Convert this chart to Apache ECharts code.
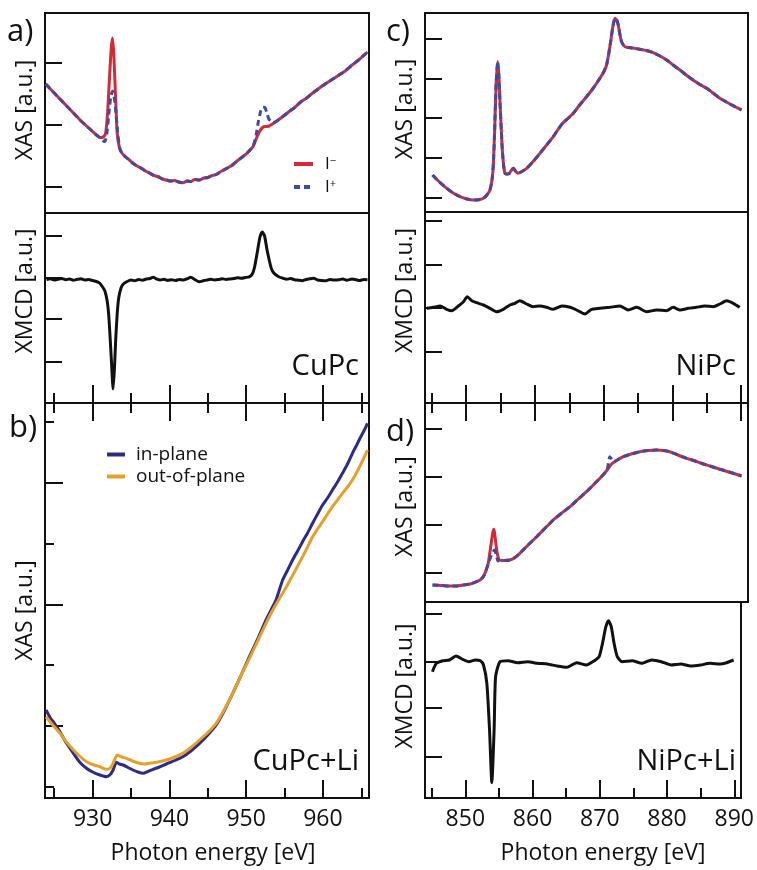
<!DOCTYPE html>
<html>
<head>
<meta charset="utf-8">
<script src="https://cdn.jsdelivr.net/npm/echarts@6/dist/echarts.min.js"></script>
<style>
html, body { margin: 0; padding: 0; background: #fff; }
#chart { width: 757px; height: 870px; }
</style>
</head>
<body>
<div id="chart"></div>
<script>
// energies in eV, intensities in arbitrary units
const cuRange = [923.8, 966]
const niRange = [844, 891]
const cuMajor = [930, 940, 950, 960]
const cuMinor = [925, 935, 945, 955, 965]
const niMajor = [850, 860, 870, 880, 890]
const niMinor = [845, 855, 865, 875, 885]

// a) CuPc XAS, I- (red) and I+ (blue)
const cuXasMinus = [[923.9,12.9],[924.5,12.4],[925,12.0],[925.5,11.6],[926,11.2],[926.5,10.8],[927,10.4],[927.5,10.0],[928,9.6],[928.5,9.2],[929,8.85],[929.5,8.5],[930,8.15],[930.5,7.8],[931,7.55],[931.4,7.6],[931.7,8.0],[931.95,10.0],[932.15,12.8],[932.4,16.2],[932.58,17.5],[932.75,16.0],[932.9,13.3],[933.05,10.5],[933.2,8.0],[933.5,6.5],[933.8,6.0],[934.3,5.6],[934.8,5.3],[935.2,5.0],[935.8,4.7],[936.4,4.45],[937,4.15],[937.4,4.0],[938,3.75],[938.6,3.6],[939.1,3.4],[939.6,3.3],[940.2,3.2],[940.7,3.25],[941.2,3.1],[941.8,3.03],[942.3,3.2],[942.8,3.15],[943.3,3.35],[943.9,3.3],[944.5,3.5],[945,3.55],[945.6,3.75],[946.1,3.85],[946.7,4.15],[947.2,4.35],[947.8,4.6],[948.3,4.85],[948.9,5.25],[949.5,5.6],[950,5.9],[950.5,6.3],[950.9,6.65],[951.3,7.4],[951.7,8.1],[952.2,8.6],[952.6,8.65],[953,8.7],[953.4,8.9],[953.9,9.15],[954.7,9.6],[955.6,10.15],[956.4,10.6],[957.1,11.1],[957.8,11.45],[958.5,11.9],[959.2,12.3],[959.9,12.7],[960.7,13.1],[961.4,13.45],[962.1,13.8],[962.9,14.2],[963.8,14.8],[964.8,15.4],[965.8,16.1]]
const cuXasPlus = [[923.9,12.9],[924.5,12.4],[925,12.0],[925.5,11.6],[926,11.2],[926.5,10.8],[927,10.4],[927.5,10.0],[928,9.6],[928.5,9.2],[929,8.85],[929.5,8.5],[930,8.15],[930.5,7.8],[931,7.5],[931.4,7.2],[931.6,7.15],[931.85,7.9],[932.1,9.8],[932.35,11.5],[932.6,12.2],[932.85,11.4],[933.05,10.0],[933.25,8.2],[933.5,6.6],[933.8,6.0],[934.3,5.6],[934.8,5.3],[935.2,5.0],[935.8,4.7],[936.4,4.45],[937,4.15],[937.4,4.0],[938,3.75],[938.6,3.6],[939.1,3.4],[939.6,3.3],[940.2,3.2],[940.7,3.25],[941.2,3.1],[941.8,3.0],[942.3,3.2],[942.8,3.15],[943.3,3.35],[943.9,3.3],[944.5,3.5],[945,3.55],[945.6,3.75],[946.1,3.85],[946.7,4.15],[947.2,4.35],[947.8,4.6],[948.3,4.85],[948.9,5.25],[949.5,5.6],[950,5.9],[950.5,6.3],[950.9,6.65],[951.3,7.8],[951.6,9.2],[951.9,10.2],[952.2,10.6],[952.45,10.55],[952.7,10.0],[952.95,9.4],[953.2,9.2],[953.5,9.05],[953.9,9.15],[954.7,9.6],[955.6,10.15],[956.4,10.6],[957.1,11.1],[957.8,11.45],[958.5,11.9],[959.2,12.3],[959.9,12.7],[960.7,13.1],[961.4,13.45],[962.1,13.8],[962.9,14.2],[963.8,14.8],[964.8,15.4],[965.8,16.1]]
// a) CuPc XMCD
const cuXmcd = [[924.0,12.35],[924.5,12.42],[925.0,12.30],[925.5,12.38],[926.0,12.45],[926.5,12.33],[927.0,12.40],[927.5,12.28],[928.0,12.36],[928.5,12.43],[929.0,12.30],[929.5,12.35],[930.0,12.25],[930.5,12.15],[930.9,12.0],[931.3,11.6],[931.6,11.2],[931.9,10.2],[932.1,8.8],[932.3,6.3],[932.5,3.5],[932.67,1.4],[932.85,3.5],[933.0,6.2],[933.2,8.9],[933.4,10.5],[933.7,11.5],[934.0,11.9],[934.5,12.15],[935.0,12.3],[935.5,12.22],[936.0,12.35],[936.5,12.28],[937.0,12.40],[937.5,12.45],[937.9,12.58],[938.3,12.42],[938.8,12.30],[939.3,12.38],[939.8,12.26],[940.3,12.33],[940.8,12.25],[941.3,12.35],[941.8,12.30],[942.3,12.42],[942.8,12.57],[943.3,12.35],[943.9,12.13],[944.4,12.22],[944.9,12.30],[945.4,12.38],[945.9,12.30],[946.4,12.35],[946.9,12.42],[947.4,12.36],[947.9,12.40],[948.4,12.45],[948.9,12.52],[949.4,12.48],[949.9,12.55],[950.4,12.62],[950.8,12.9],[951.1,13.6],[951.5,15.3],[951.8,16.6],[952.1,17.1],[952.4,16.7],[952.7,15.4],[953.0,14.3],[953.3,13.4],[953.6,13.0],[953.9,12.8],[954.3,12.6],[954.8,12.47],[955.3,12.38],[955.8,12.45],[956.3,12.33],[956.8,12.28],[957.3,12.23],[957.8,12.35],[958.3,12.42],[958.8,12.47],[959.3,12.30],[959.8,12.25],[960.4,12.23],[960.9,12.35],[961.4,12.30],[962.1,12.33],[962.6,12.40],[963.1,12.28],[963.8,12.40],[964.3,12.33],[964.8,12.25],[965.3,12.35],[965.8,12.32]]

// b) CuPc+Li XAS, in-plane and out-of-plane
const cuLiInPlane = [[923.93,8.8],[924.5,8.0],[925,7.5],[925.75,6.63],[926.5,5.6],[927.5,4.47],[928.3,3.6],[929.2,2.97],[930,2.6],[930.94,2.3],[931.8,2.13],[932.3,2.35],[932.67,2.8],[933.1,3.57],[933.5,3.4],[933.97,3.3],[934.6,3.05],[935.27,2.8],[935.9,2.6],[936.57,2.47],[937.2,2.65],[937.87,2.87],[938.7,3.1],[939.6,3.4],[940.7,3.75],[941.76,4.13],[942.8,4.7],[943.93,5.47],[945,6.3],[946.1,7.3],[947.2,8.8],[948.25,10.47],[949.3,12.2],[950.42,14.13],[951.5,15.9],[952.59,17.8],[953.24,18.8],[953.89,19.8],[954.75,21.8],[955.4,22.8],[956.05,23.8],[956.7,24.7],[957.35,25.63],[958,26.5],[958.65,27.47],[959.3,28.4],[959.95,29.3],[960.6,30.0],[961.24,30.8],[961.9,31.6],[962.54,32.47],[963.2,33.4],[963.84,34.47],[964.4,35.3],[964.93,36.13],[965.4,36.8],[965.8,37.47]]
const cuLiOutPlane = [[923.93,8.13],[924.8,7.3],[925.75,6.47],[926.6,5.6],[927.5,4.8],[928.3,4.2],[929.2,3.63],[930,3.35],[930.94,3.13],[931.8,2.87],[932.3,3.0],[932.67,3.47],[933.2,4.3],[933.8,4.1],[934.4,3.97],[935.2,3.7],[936.1,3.47],[936.8,3.4],[937.4,3.47],[938.5,3.6],[939.6,3.8],[940.7,4.1],[941.76,4.47],[942.8,5.05],[943.93,5.8],[945,6.55],[946.1,7.47],[947.2,8.9],[948.25,10.47],[949.3,12.2],[950.42,13.97],[951.5,15.7],[952.59,17.47],[953.4,18.7],[954.3,19.9],[955.0,20.8],[955.6,21.63],[956.5,22.9],[957.35,24.13],[958,25.1],[958.65,26.13],[959.3,26.9],[959.95,27.63],[960.6,28.4],[961.24,29.13],[961.9,29.8],[962.54,30.47],[963.2,31.1],[963.84,31.8],[964.5,32.7],[965.1,33.63],[965.8,34.8]]

// c) NiPc XAS (I- and I+ coincide) and XMCD
const niXas = [[845.1,3.7],[846.1,3.0],[847.16,2.37],[848.1,1.9],[849.1,1.53],[850.1,1.3],[851.03,1.2],[851.8,1.22],[852.5,1.37],[853.0,1.7],[853.45,2.2],[853.75,3.2],[853.95,4.8],[854.15,8.5],[854.35,12.8],[854.57,15.03],[854.75,13.6],[854.9,11.2],[855.1,8.2],[855.25,6.2],[855.45,4.6],[855.64,3.87],[856.0,3.8],[856.27,3.87],[856.6,4.2],[856.85,4.37],[857.15,4.1],[857.48,3.87],[858.1,4.05],[858.8,4.37],[859.8,5.1],[860.73,5.87],[861.7,6.7],[862.66,7.53],[863.4,8.3],[864.1,8.93],[864.8,9.35],[865.57,9.87],[866.5,10.7],[867.5,11.53],[868.5,12.4],[869.45,13.37],[870.0,14.0],[870.42,14.7],[870.75,15.9],[871.05,17.2],[871.35,18.6],[871.64,19.37],[871.9,19.2],[872.12,18.7],[872.35,17.8],[872.6,17.03],[873.1,16.53],[874.2,16.4],[875.27,16.27],[876.2,16.15],[877.2,15.93],[878.2,15.6],[879.16,15.2],[880.1,14.7],[881.1,14.2],[882.0,13.7],[883.0,13.2],[884.0,12.75],[885.0,12.37],[886.0,11.85],[886.9,11.37],[887.6,11.1],[888.36,10.8],[889.2,10.5],[890.06,10.2]]
const niXmcd = [[844.24,9.47],[845.2,9.57],[846.2,9.7],[847.15,9.37],[847.9,9.23],[848.85,9.7],[849.6,10.13],[850.15,10.63],[850.8,10.23],[851.5,10.03],[852.5,9.8],[853.45,9.47],[854.4,9.13],[855.4,9.37],[856.36,9.8],[857.1,9.97],[857.8,10.23],[858.8,9.9],[859.76,9.63],[860.7,9.7],[861.7,9.57],[862.66,9.37],[863.9,9.7],[865.1,9.57],[866.06,9.3],[867.27,8.9],[868.24,9.37],[869.45,9.47],[870.9,9.57],[872.36,9.7],[873.58,9.3],[874.8,9.57],[876.24,9.13],[877.7,9.3],[879.15,9.23],[880.1,9.57],[881.1,9.3],[882.3,9.47],[883.5,9.57],[884.7,9.7],[885.94,9.63],[886.9,9.9],[887.9,10.23],[888.85,9.97],[889.8,9.57]]

// d) NiPc+Li XAS and XMCD
const niLiXasMinus = [[845.1,1.7],[846.5,1.65],[847.5,1.6],[848.6,1.6],[849.6,1.7],[850.6,1.8],[851.5,2.03],[852.0,2.2],[852.48,2.53],[852.85,3.1],[853.2,3.87],[853.45,5.0],[853.7,6.2],[853.88,7.0],[854.04,7.27],[854.22,6.4],[854.43,5.2],[854.6,4.6],[854.8,4.2],[855.5,4.15],[856.36,4.2],[857.1,4.45],[857.8,4.87],[859.0,5.7],[860.25,6.53],[861.5,7.4],[862.66,8.2],[863.9,8.9],[865.1,9.53],[866.3,10.3],[867.5,11.03],[868.7,11.85],[869.9,12.7],[870.5,13.2],[871.15,13.8],[872.0,14.2],[872.85,14.53],[874.0,14.8],[875.27,15.03],[876.5,15.15],[877.7,15.2],[878.7,15.15],[879.6,15.03],[880.8,14.7],[882.07,14.37],[883.3,14.1],[884.5,13.8],[885.7,13.55],[886.9,13.27],[888.5,12.95],[890.06,12.6]]
const niLiXasPlus = [[845.1,1.7],[846.5,1.65],[847.5,1.6],[848.6,1.6],[849.6,1.7],[850.6,1.8],[851.5,2.03],[852.0,2.2],[852.48,2.53],[852.85,3.1],[853.2,3.8],[853.5,4.4],[853.8,4.9],[854.1,5.2],[854.35,4.8],[854.6,4.1],[854.8,4.2],[855.5,4.15],[856.36,4.2],[857.1,4.45],[857.8,4.87],[859.0,5.7],[860.25,6.53],[861.5,7.4],[862.66,8.2],[863.9,8.9],[865.1,9.53],[866.3,10.3],[867.5,11.03],[868.7,11.85],[869.9,12.7],[870.5,13.2],[870.9,14.53],[871.15,14.3],[871.4,14.03],[872.0,14.2],[872.85,14.53],[874.0,14.8],[875.27,15.03],[876.5,15.15],[877.7,15.2],[878.7,15.15],[879.6,15.03],[880.8,14.7],[882.07,14.37],[883.3,14.1],[884.5,13.8],[885.7,13.55],[886.9,13.27],[888.5,12.95],[890.06,12.6]]
const niLiXmcd = [[845.1,12.63],[845.7,13.47],[846.67,13.73],[847.64,13.8],[848.6,14.2],[849.6,13.87],[850.5,13.63],[851.5,13.8],[852.24,13.73],[852.7,13.3],[853.2,11.47],[853.6,6.8],[853.94,1.53],[854.28,6.8],[854.5,12.13],[855.15,13.63],[856.36,13.73],[857.8,13.53],[859.27,13.63],[860.73,13.47],[862.18,13.4],[863.64,13.2],[865.1,13.07],[866.55,13.53],[868.0,13.3],[869.2,13.73],[869.9,14.13],[870.4,15.47],[870.9,17.13],[871.3,17.73],[871.7,17.13],[872.12,15.47],[872.6,14.13],[873.33,13.63],[874.8,13.73],[876.24,13.47],[877.7,13.8],[879.15,13.63],[880.6,13.3],[882.06,13.4],[883.5,13.2],[885.0,13.3],[886.4,13.47],[887.9,13.4],[888.85,13.53],[889.9,13.8]]

// y tick values (a.u.)
const cuXasTicks = [2.6, 8.8, 15.0]
const cuXmcdTicks = [4.1, 8.4, 12.5, 16.7]
const cuLiMajorTicks = [7.2, 19.3, 31.5]
const cuLiMinorTicks = [1.1, 13.3, 25.4, 37.6]
const niXasTicks = [1.4, 5.4, 9.4, 13.3, 17.3]
const niXmcdTicks = [5.1, 9.5, 13.8, 18.2]
const niLiXasTicks = [2.9, 7.7, 12.5, 17.3]
const niLiXmcdTicks = [4.1, 9.0, 13.6, 18.4]

const font = "'Open Sans', sans-serif"
const ink = '#111'
const red = '#d42a36'
const blue = '#3a4ca8'

const chart = echarts.init(document.getElementById('chart'))

const grids = [
    { left: 45, top: 13, width: 324, height: 200 },   // a XAS
    { left: 45, top: 213, width: 324, height: 190 },  // a XMCD
    { left: 45, top: 403, width: 324, height: 395 },  // b
    { left: 425, top: 13, width: 323, height: 199 },  // c XAS
    { left: 425, top: 212, width: 323, height: 191 }, // c XMCD
    { left: 425, top: 403, width: 323, height: 199 }, // d XAS
    { left: 425, top: 602, width: 323, height: 196 }  // d XMCD
].map(g => Object.assign(g, { show: true, borderColor: ink, borderWidth: 2, backgroundColor: 'transparent' }))

function tick(values, len) {
    if (!values) return { show: false }
    return { show: true, inside: true, length: len, customValues: values, lineStyle: { color: ink, width: 2 } }
}

function xAx(grid, range, pos, ticks, len, extra) {
    return Object.assign({
        type: 'value', gridIndex: grid, min: range[0], max: range[1], position: pos,
        axisLine: { show: false, onZero: false },
        splitLine: { show: false },
        axisLabel: { show: false },
        axisTick: tick(ticks, len)
    }, extra || {})
}

function yAx(grid, max, ticks, len, name, pad) {
    let ax = {
        type: 'value', gridIndex: grid, min: 0, max: max, position: 'left',
        axisLine: { show: false, onZero: false },
        splitLine: { show: false },
        axisLabel: { show: false },
        axisTick: tick(ticks, len)
    }
    if (name) {
        ax.name = name
        ax.nameLocation = 'middle'
        ax.nameGap = 8
        ax.nameTextStyle = { fontFamily: font, fontSize: 23, color: ink, padding: pad }
    }
    return ax
}

function labelled(values, shift) {
    return {
        axisLabel: { show: true, customValues: values, margin: 10, color: ink, fontFamily: font, fontSize: 23 },
        name: 'Photon energy [eV]',
        nameLocation: 'middle',
        nameGap: 44,
        nameTextStyle: { fontFamily: font, fontSize: 23, color: ink, padding: [0, 0, 0, shift] }
    }
}

const xAxes = [
    xAx(0, cuRange, 'bottom', null),
    xAx(1, cuRange, 'bottom', cuMajor, 18),
    xAx(1, cuRange, 'bottom', cuMinor, 10),
    xAx(2, cuRange, 'bottom', cuMajor, 18, labelled(cuMajor, 12)),
    xAx(2, cuRange, 'bottom', cuMinor, 10),
    xAx(2, cuRange, 'top', cuMajor, 18),
    xAx(2, cuRange, 'top', cuMinor, 10),
    xAx(3, niRange, 'bottom', null),
    xAx(4, niRange, 'bottom', niMajor, 18),
    xAx(4, niRange, 'bottom', niMinor, 10),
    xAx(5, niRange, 'top', niMajor, 18),
    xAx(5, niRange, 'top', niMinor, 10),
    xAx(6, niRange, 'bottom', niMajor, 18, labelled(niMajor, 40)),
    xAx(6, niRange, 'bottom', niMinor, 10)
]

const yAxes = [
    yAx(0, 20, cuXasTicks, 17, 'XAS [a.u.]', [0, 0, 0, 6]),
    yAx(1, 19, cuXmcdTicks, 17, 'XMCD [a.u.]', [0, 0, 0, 34]),
    yAx(2, 39.5, cuLiMajorTicks, 18, 'XAS [a.u.]', [0, 20, 0, 0]),
    yAx(2, 39.5, cuLiMinorTicks, 9),
    yAx(3, 19.9, niXasTicks, 17, 'XAS [a.u.]', [0, 0, 0, 7]),
    yAx(4, 19.1, niXmcdTicks, 17, 'XMCD [a.u.]', [0, 0, 0, 34]),
    yAx(5, 19.9, niLiXasTicks, 17, 'XAS [a.u.]', [0, 8, 0, 0]),
    yAx(6, 19.6, niLiXmcdTicks, 17, 'XMCD [a.u.]', [0, 0, 0, 28])
]

function line(name, data, xi, yi, color, width, dash) {
    return {
        name: name, type: 'line', data: data,
        xAxisIndex: xi, yAxisIndex: yi,
        symbol: 'none', showSymbol: false, smooth: 0.2,
        lineStyle: { color: color, width: width, type: dash || 'solid' },
        itemStyle: { color: color },
        silent: true
    }
}

const series = [
    line('aMinus', cuXasMinus, 0, 0, red, 3),
    line('aPlus', cuXasPlus, 0, 0, blue, 3, [6, 4]),
    line('aXmcd', cuXmcd, 1, 1, ink, 3),
    line('in-plane', cuLiInPlane, 3, 2, '#2c2c86', 3),
    line('out-of-plane', cuLiOutPlane, 3, 2, '#e6a02a', 3),
    line('cMinus', niXas, 7, 4, red, 3),
    line('cPlus', niXas, 7, 4, blue, 3, [6, 4]),
    line('cXmcd', niXmcd, 8, 5, ink, 3),
    line('dMinus', niLiXasMinus, 10, 6, red, 3),
    line('dPlus', niLiXasPlus, 10, 6, blue, 3, [6, 4]),
    line('dXmcd', niLiXmcd, 12, 7, ink, 3)
]

function legendFor(name, left, top, fmt, rich, width) {
    return {
        data: [name], left: left, top: top, orient: 'vertical',
        selectedMode: false, itemWidth: width, itemHeight: 12,
        itemStyle: { color: 'transparent', borderWidth: 0, opacity: 0 },
        lineStyle: { width: 4 },
        formatter: fmt,
        textStyle: { fontFamily: font, color: ink, rich: rich }
    }
}

const superRich = {
    m: { fontFamily: font, fontSize: 17, color: ink, lineHeight: 18, padding: [0, 0, 0, 7] },
    s: { fontFamily: font, fontSize: 11, color: ink, verticalAlign: 'top', lineHeight: 11 }
}
const planeRich = {
    t: { fontFamily: font, fontSize: 19, color: ink, padding: [0, 0, 0, 6] }
}

const legends = [
    legendFor('aMinus', 287, 150, () => '{m|I}{s|\u2212}', superRich, 19),
    legendFor('aPlus', 287, 173, () => '{m|I}{s|+}', superRich, 19),
    legendFor('in-plane', 100, 440, n => '{t|' + n + '}', planeRich, 18),
    legendFor('out-of-plane', 100, 462, n => '{t|' + n + '}', planeRich, 18)
]

function txt(text, x, y, size, align) {
    return {
        type: 'text', x: x, y: y, silent: true,
        style: { text: text, font: size + 'px ' + font, fill: ink, align: align || 'left', verticalAlign: 'middle' }
    }
}

const labels = [
    txt('a)', 7, 32, 31),
    txt('b)', 9, 428, 31),
    txt('c)', 386, 32, 31),
    txt('d)', 386, 432, 31),
    txt('CuPc', 359, 367, 29, 'right'),
    txt('NiPc', 736, 367, 29, 'right'),
    txt('CuPc+Li', 359, 762, 29, 'right'),
    txt('NiPc+Li', 736, 762, 29, 'right')
]

chart.setOption({
    animation: false,
    backgroundColor: '#fff',
    textStyle: { fontFamily: font },
    grid: grids,
    xAxis: xAxes,
    yAxis: yAxes,
    legend: legends,
    graphic: labels,
    series: series
})
</script>
</body>
</html>
